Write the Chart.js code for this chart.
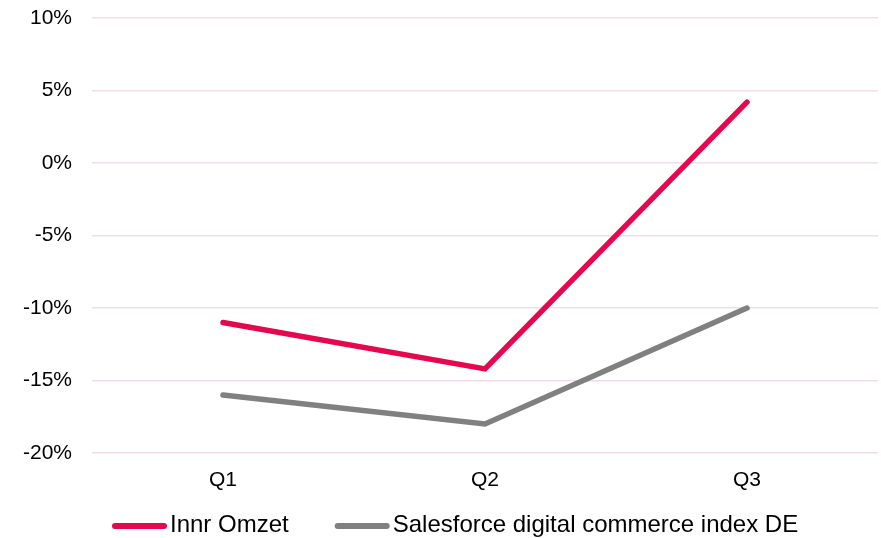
<!DOCTYPE html>
<html>
<head>
<meta charset="utf-8">
<script src="https://cdn.jsdelivr.net/npm/chart.js@4"></script>
<style>
  html, body { margin: 0; padding: 0; background: #fff; }
  #wrap { width: 881px; height: 538px; position: relative; }
</style>
</head>
<body>
<div id="wrap"><canvas id="chart"></canvas></div>
<script>
const quarters = ["Q1", "Q2", "Q3"]
const innrOmzet = [-11, -14.2, 4.2]
const salesforceIndex = [-16, -18, -10]

const fontFamily = "'Liberation Sans', Arial, Helvetica, sans-serif"
const tickFont = { family: fontFamily, size: 21 }

// legend drawn by hand so the line samples get round caps like the original
const lineLegend = {
  id: "lineLegend",
  afterDraw(chart) {
    const ctx = chart.ctx
    const y = 526
    let x = 112
    ctx.save()
    ctx.font = "24px " + fontFamily
    ctx.textBaseline = "middle"
    ctx.lineCap = "round"
    chart.data.datasets.forEach((ds) => {
      ctx.strokeStyle = ds.borderColor
      ctx.lineWidth = 6
      ctx.beginPath()
      ctx.moveTo(x + 3, y)
      ctx.lineTo(x + 52, y)
      ctx.stroke()
      ctx.fillStyle = "#000"
      ctx.fillText(ds.label, x + 58, y - 1)
      x += 58 + ctx.measureText(ds.label).width + 46
    })
    ctx.restore()
  },
}

new Chart(document.getElementById("chart"), {
  type: "line",
  data: {
    labels: quarters,
    datasets: [
      {
        label: "Innr Omzet",
        data: innrOmzet,
        borderColor: "#E5084F",
        borderWidth: 5.5,
        borderCapStyle: "round",
        pointRadius: 0,
        tension: 0,
      },
      {
        label: "Salesforce digital commerce index DE",
        data: salesforceIndex,
        borderColor: "#808080",
        borderWidth: 5.5,
        borderCapStyle: "round",
        pointRadius: 0,
        tension: 0,
      },
    ],
  },
  plugins: [lineLegend],
  options: {
    responsive: true,
    maintainAspectRatio: false,
    animation: false,
    layout: { padding: { top: 18, right: 3, left: 0, bottom: 45 } },
    plugins: {
      tooltip: { enabled: false },
      legend: { display: false },
    },
    scales: {
      x: {
        offset: true,
        grid: { display: false, drawTicks: false, offset: true },
        border: { display: false },
        ticks: { color: "#000", font: tickFont, padding: 15 },
        afterFit: (scale) => { scale.height = 40 },
      },
      y: {
        min: -20,
        max: 10,
        grid: { color: "#F2DCEA", lineWidth: 1.5, drawTicks: false },
        border: { display: false },
        ticks: {
          stepSize: 5,
          color: "#000",
          font: tickFont,
          padding: 20,
          callback: (v) => v + "%",
        },
        afterFit: (scale) => {
          scale.width = 92
          scale.paddingTop = 0
          scale.paddingBottom = 0
        },
      },
    },
  },
})
</script>
</body>
</html>
